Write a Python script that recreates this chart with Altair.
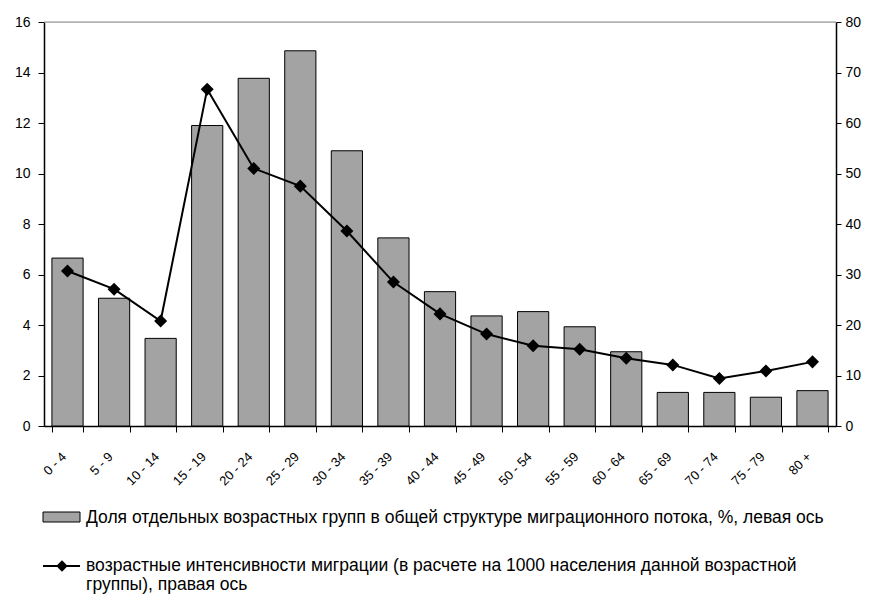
import altair as alt
import pandas as pd

groups = ["0 - 4", "5 - 9", "10 - 14", "15 - 19", "20 - 24", "25 - 29", "30 - 34",
          "35 - 39", "40 - 44", "45 - 49", "50 - 54", "55 - 59", "60 - 64",
          "65 - 69", "70 - 74", "75 - 79", "80 +"]
share = [6.65, 5.06, 3.47, 11.9, 13.77, 14.86, 10.9, 7.45, 5.32, 4.36, 4.53,
         3.93, 2.94, 1.33, 1.33, 1.14, 1.40]
intensity = [30.7, 27.1, 20.8, 66.7, 51.0, 47.5, 38.6, 28.5, 22.2, 18.2, 15.9,
             15.2, 13.4, 12.1, 9.4, 10.9, 12.7]

legend_bar = "Доля отдельных возрастных групп в общей структуре миграционного потока, %, левая ось"
legend_line_1 = "возрастные интенсивности миграции (в расчете на 1000 населения данной возрастной"
legend_line_2 = "группы), правая ось"

FONT = "Liberation Sans"
W, H = 792, 404
LFS = 17.5

df = pd.DataFrame({"group": groups, "share": share, "intensity": intensity})
one = pd.DataFrame({"k": [0]})

xenc = alt.X("group:N", sort=groups, title=None,
             scale=alt.Scale(paddingInner=0.33, paddingOuter=0.17),
             axis=alt.Axis(labelAngle=-45, tickBand="extent", domainColor="black",
                           tickColor="black", tickSize=6, labelFontSize=13,
                           labelFont=FONT, labelColor="black", labelPadding=18,
                           labelOffset=-8, domainWidth=1.5))

bars = alt.Chart(df).mark_bar(fill="#a3a3a3", stroke="black", strokeWidth=1).encode(
    x=xenc,
    y=alt.Y("share:Q", title=None,
            scale=alt.Scale(domain=[0, 16], nice=False),
            axis=alt.Axis(orient="left", values=list(range(0, 17, 2)), grid=False,
                          domainColor="black", tickColor="black", tickSize=6,
                          domainWidth=1.5, labelFont=FONT, labelFontSize=14,
                          labelColor="black", labelPadding=8)),
)

yr = alt.Y("intensity:Q", title=None,
           scale=alt.Scale(domain=[0, 80], nice=False),
           axis=alt.Axis(orient="right", values=list(range(0, 81, 10)), grid=False,
                         domainColor="black", tickColor="black", tickSize=5,
                         domainWidth=1.5, labelFont=FONT, labelFontSize=14,
                         labelColor="black", labelPadding=4))

line = alt.Chart(df).mark_line(color="black", strokeWidth=2).encode(
    x=alt.X("group:N", sort=groups), y=yr)
points = alt.Chart(df).mark_point(shape="diamond", filled=True, color="black",
                                  size=170, opacity=1).encode(
    x=alt.X("group:N", sort=groups), y=yr)

top_rule = alt.Chart(one).mark_rule(color="#8c8c8c", strokeWidth=1).encode(
    x=alt.value(0), x2=alt.value(W), y=alt.value(0))

sw = alt.Chart(one).mark_rect(fill="#a3a3a3", stroke="black", strokeWidth=1).encode(
    x=alt.value(-1), x2=alt.value(36), y=alt.value(490), y2=alt.value(500))
t1 = alt.Chart(one).mark_text(align="left", baseline="middle", font=FONT,
                              fontSize=LFS, color="black").encode(
    x=alt.value(42), y=alt.value(496), text=alt.value(legend_bar))
lr = alt.Chart(one).mark_rule(color="black", strokeWidth=2).encode(
    x=alt.value(-1), x2=alt.value(36), y=alt.value(544))
lp = alt.Chart(one).mark_point(shape="diamond", filled=True, color="black",
                               size=130, opacity=1).encode(
    x=alt.value(18), y=alt.value(544))
t2 = alt.Chart(one).mark_text(align="left", baseline="middle", font=FONT,
                              fontSize=LFS, color="black").encode(
    x=alt.value(42), y=alt.value(544), text=alt.value(legend_line_1))
t3 = alt.Chart(one).mark_text(align="left", baseline="middle", font=FONT,
                              fontSize=LFS, color="black").encode(
    x=alt.value(42), y=alt.value(563), text=alt.value(legend_line_2))

chart = alt.layer(
    bars,
    alt.layer(line, points),
    top_rule, sw, t1, lr, lp, t2, t3,
).resolve_scale(y="independent").properties(
    width=W, height=H,
    autosize=alt.AutoSizeParams(type="none"),
    padding={"left": 36, "top": 14, "right": 26, "bottom": 168},
).configure_view(stroke=None).configure(background="white")

chart.save("out.html", embed_options={"renderer": "svg", "actions": False})
